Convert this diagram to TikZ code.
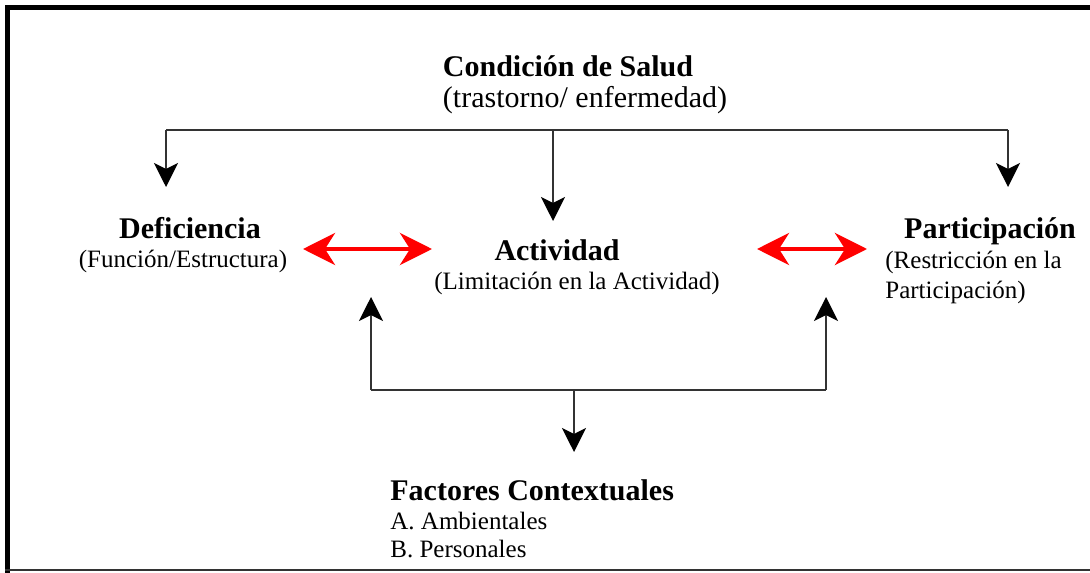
\documentclass[tikz,border=0pt]{standalone}
\usepackage{fontspec}
\setmainfont{Liberation Serif}
\usetikzlibrary{positioning,calc,arrows.meta}

\begin{document}
\begin{tikzpicture}[x=0.5pt,y=-0.5pt,
    head/.style={font=\fontsize{15}{18}\selectfont\bfseries, inner sep=0pt, anchor=base},
    sub/.style={font=\fontsize{12.5}{15}\selectfont, inner sep=0pt, anchor=base},
    conn/.style={draw=black!80, line width=0.75pt},
    arr/.style={conn, -{Stealth[length=12pt,width=12pt,inset=3pt,color=black]}},
    redarr/.style={draw=red, line width=2.2pt, {Stealth[length=16pt,width=16pt,inset=5pt]}-{Stealth[length=16pt,width=16pt,inset=5pt]}}]
    \useasboundingbox (0,0) rectangle (1090,572);

    % Frame
    \draw[line width=2.5pt] (7.5,1100) -- (7.5,7.5) -- (1095,7.5);
    \draw[black!80, line width=1pt] (5,570) -- (1095,570);

    % Texts
    \node[head] (salud) at (568,77) {Condición de Salud};
    \node[sub, font=\fontsize{15}{18}\selectfont] (saludsub) at (585,108) {(trastorno/ enfermedad)};
    \node[head] (def) at (190,238) {Deficiencia};
    \node[sub] (defsub) at (183,267) {(Función/Estructura)};
    \node[head] (act) at (557,260) {Actividad};
    \node[sub] (actsub) at (577,289) {(Limitación en la Actividad)};
    \node[head] (part) at (990,238) {Participación};
    \node[sub, anchor=north west, align=left] (partsub) at (885,251) {(Restricción en la\\Participación)};
    \node[head, anchor=base west] (fact) at (390,500) {Factores Contextuales};
    \node[sub, anchor=north west, align=left, font=\fontsize{12.5}{14}\selectfont] (factsub) at (390,512) {A. Ambientales\\B. Personales};

    % Junctions
    \coordinate (jtl) at (166,130); \coordinate (jtm) at (553,130); \coordinate (jtr) at (1008,130);
    \coordinate (jbl) at (371,390); \coordinate (jbm) at (574,390); \coordinate (jbr) at (826,390);

    % Top connectors
    \draw[conn] (jtl) -- (jtr);
    \draw[arr] (jtl) -- (166,187);
    \draw[arr] (jtm) -- (553,221);
    \draw[arr] (jtr) -- (1008,187);

    % Bottom connectors
    \draw[conn] (jbl) -- (jbr);
    \draw[arr] (jbl) -- (371,297);
    \draw[arr] (jbr) -- (826,297);
    \draw[arr] (jbm) -- (574,452);

    % Red arrows
    \draw[redarr] (303,249) -- (432,249);
    \draw[redarr] (757,249) -- (867,249);
\end{tikzpicture}
\end{document}
